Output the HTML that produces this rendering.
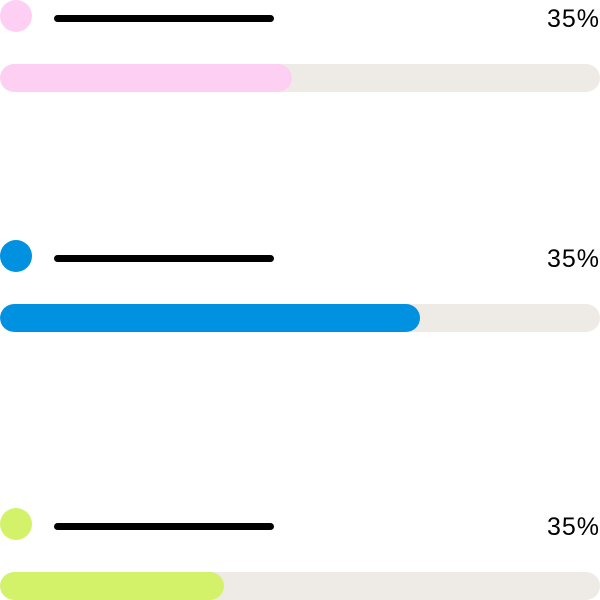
<!DOCTYPE html>
<html><head><style>
body{margin:0;width:600px;height:600px;background:#fff;position:relative;overflow:hidden;font-family:"Liberation Sans",sans-serif}
.c{position:absolute;left:0;width:32px;height:32px;border-radius:50%}
.l{position:absolute;left:54px;width:220px;height:7px;border-radius:4px;background:#000}
.t{position:absolute;right:0;font-size:25px;letter-spacing:1px;color:#000;line-height:28px}
.b{position:absolute;left:0;width:600px;height:28px;border-radius:14px;background:#eeebe6;overflow:hidden}
.f{height:28px;border-radius:14px}
</style></head><body>
<div class="c" style="top:0;background:#fdd0f3"></div>
<div class="l" style="top:15px"></div>
<div class="t" style="top:5px">35%</div>
<div class="b" style="top:64px"><div class="f" style="width:292px;background:#fdd0f3"></div></div>

<div class="c" style="top:240px;background:#0091e0"></div>
<div class="l" style="top:255px"></div>
<div class="t" style="top:245px">35%</div>
<div class="b" style="top:304px"><div class="f" style="width:420px;background:#0091e0"></div></div>

<div class="c" style="top:508px;background:#d3f26a"></div>
<div class="l" style="top:523px"></div>
<div class="t" style="top:513px">35%</div>
<div class="b" style="top:572px"><div class="f" style="width:224px;background:#d3f26a"></div></div>
</body></html>
